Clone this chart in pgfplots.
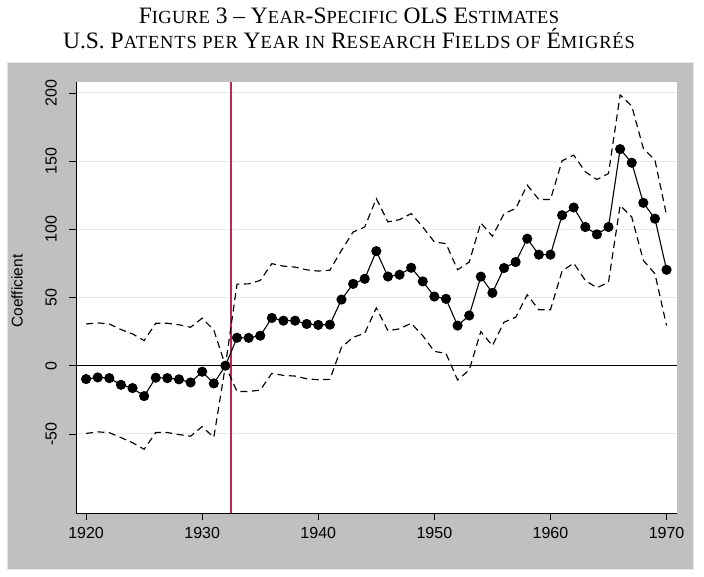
\documentclass[border=0pt]{standalone}
\usepackage{fontspec}
\setmainfont{Liberation Serif}
\newfontfamily\arialf{Liberation Sans}
\newfontfamily\scf[LetterSpace=2]{Liberation Serif}
\newfontfamily\scfb[LetterSpace=4.5]{Liberation Serif}
\usepackage{pgfplots}
\usepackage{pgfplotstable}
\pgfplotsset{compat=1.18}
\definecolor{stgrey}{RGB}{192,192,192}
\definecolor{gridc}{RGB}{230,236,238}
\definecolor{vlinec}{RGB}{190,40,80}
\newcommand{\BC}[1]{{\fontsize{23.5}{26}\selectfont #1}}
\newcommand{\SC}[1]{{\scf\fontsize{18.5}{22}\selectfont #1}}
\newcommand{\SCB}[1]{{\scfb\fontsize{18.5}{22}\selectfont #1}}
\pgfplotstableread{
year coef lo hi
1920 -9.8 -49.7 30.6
1921 -8.6 -48.5 31.4
1922 -9.1 -49.1 30.6
1923 -14 -52.7 26.5
1924 -16.4 -56.4 23.3
1925 -22.3 -61.3 18.4
1926 -8.8 -49 31.1
1927 -9.1 -49 31.1
1928 -10 -50.5 30
1929 -12.3 -51.7 28.2
1930 -4.4 -44.6 34.8
1931 -13 -52.6 26.2
1932 0 0 0
1933 20.5 -18.9 59.8
1934 20.4 -18.9 60
1935 22 -17.9 62.5
1936 35 -5.6 74.8
1937 33 -7.1 73
1938 33 -7.6 72.3
1939 30.6 -9.6 70.3
1940 29.9 -10.3 69.4
1941 30.1 -10 70
1942 48.5 13.5 84.6
1943 60 20.8 98
1944 63.7 23.8 101.7
1945 84 42.4 122.5
1946 65.4 25.7 105.4
1947 66.7 27 107.1
1948 71.8 31.1 111.5
1949 61.8 22 101.7
1950 50.7 10.5 90.7
1951 49 9 89.5
1952 29.4 -10.5 70.3
1953 36.8 -3.2 76
1954 65.3 25 104.7
1955 53.4 14.7 94.9
1956 71.6 31.9 111.5
1957 76 35.5 115.2
1958 93.1 52 132.4
1959 81.4 41 121.8
1960 81.4 41 121.8
1961 110.3 69.4 150.2
1962 116 75.2 154.4
1963 101.7 62.5 142.2
1964 96.3 57.1 136.5
1965 101.7 61.3 140.9
1966 158.8 117.6 198.5
1967 148.8 109 190.4
1968 119.4 77.2 159.3
1969 107.8 67.4 150.7
1970 70.3 29.4 110.3
}\datatab
\pgfplotstableread{
x y
1932.5 -108
1932.5 208
}\vlinetab
\begin{document}
\begin{tikzpicture}[x=1pt,y=1pt]
\useasboundingbox (0,0) rectangle (704,576);
\fill[white] (0,0) rectangle (704,576);
\filldraw[fill=stgrey, draw=gray!20, line width=0.8pt] (7,7) rectangle (693,514);
\node[anchor=base, inner sep=0, font=\fontsize{23.5}{26}\selectfont] at (349,552.7) {\BC{F}\SC{IGURE} \BC{3 – Y}\SC{EAR}\BC{-S}\SC{PECIFIC} \BC{OLS E}\SC{STIMATES}};
\node[anchor=base, inner sep=0, font=\fontsize{23.5}{26}\selectfont] at (349,527.7) {\BC{U.S. P}\SCB{ATENTS PER} \BC{Y}\SCB{EAR IN} \BC{R}\SCB{ESEARCH} \BC{F}\SCB{IELDS OF} \BC{É}\SCB{MIGRÉS}};
\begin{axis}[
  at={(76pt,63pt)}, anchor=south west,
  scale only axis, width=601pt, height=431pt,
  xmin=1919.13, xmax=1970.9,
  ymin=-108, ymax=208,
  axis x line=bottom, axis y line=left,
  axis line style={-, black, line width=0.7pt},
  axis background/.style={fill=white},
  xtick={1920,1930,...,1970},
  ytick={-50,0,50,100,150,200},
  ymajorgrids=true,
  major grid style={gridc, line width=1pt},
  tick align=outside,
  major tick length=7pt,
  tick style={black, line width=0.7pt},
  /pgf/number format/assume math mode=true,
  /pgf/number format/1000 sep={},
  ticklabel style={font=\arialf\fontsize{16}{16}\selectfont},
  yticklabel style={xshift=-9pt, rotate=90, anchor=south, inner sep=3pt},
  xticklabel style={inner sep=3pt, yshift=-4pt},
  ylabel={Coefficient},
  every axis y label/.style={at={(axis description cs:-0.098,0.515)}, rotate=90, anchor=center, font=\arialf\fontsize{15.5}{16}\selectfont},
  clip=false,
]
\addplot[black, line width=0.9pt, forget plot] coordinates {(1919.13,0) (1970.9,0)};
\addplot[color=vlinec, solid, line width=1.5pt, forget plot] table[x=x, y=y] {\vlinetab};
\addplot[black, line width=1.15pt, dash pattern=on 7pt off 4.5pt] table[x=year, y=hi] {\datatab};
\addplot[black, line width=1.15pt, dash pattern=on 7pt off 4.5pt] table[x=year, y=lo] {\datatab};
\addplot[black, line width=1.1pt, mark=*, mark size=4.5pt, mark options={solid, fill=black}] table[x=year, y=coef] {\datatab};
\end{axis}
\end{tikzpicture}
\end{document}
